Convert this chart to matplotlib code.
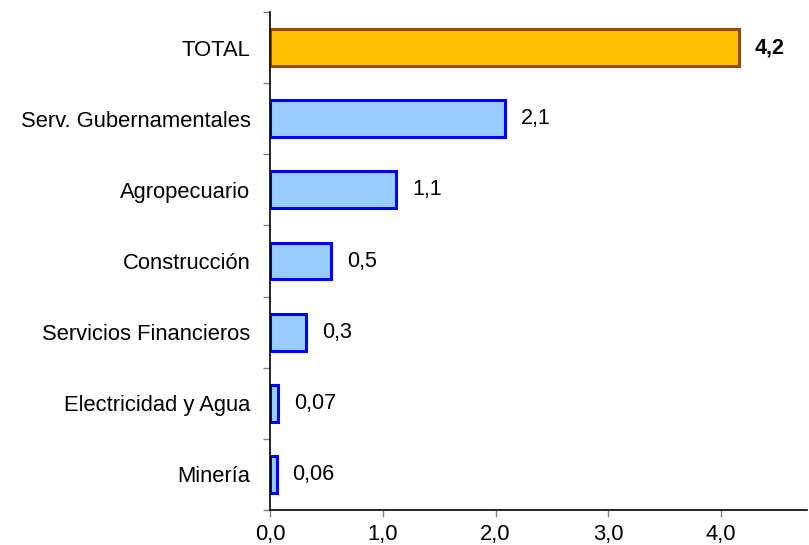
import matplotlib
matplotlib.use("Agg")
import matplotlib.pyplot as plt
import numpy as np

categories = ["TOTAL", "Serv. Gubernamentales", "Agropecuario", "Construcción",
              "Servicios Financieros", "Electricidad y Agua", "Minería"]
values = [4.16, 2.08, 1.12, 0.54, 0.32, 0.07, 0.06]
value_labels = ["4,2", "2,1", "1,1", "0,5", "0,3", "0,07", "0,06"]
x_ticks = [0.0, 1.0, 2.0, 3.0, 4.0]
x_tick_labels = ["0,0", "1,0", "2,0", "3,0", "4,0"]

plt.rcParams['font.family'] = ['Liberation Sans', 'DejaVu Sans']

fig = plt.figure(figsize=(8.09, 5.45), dpi=100)
ax = fig.add_axes([0.3337, 0.0642, 0.9975 - 0.3337, 0.978 - 0.0642])

y = np.arange(len(categories))
fills = ["#FFC000"] + ["#99CCFF"] * (len(categories) - 1)
edges = ["#9C4A0C"] + ["#0000FF"] * (len(categories) - 1)
ax.barh(y, values, height=0.52, color=fills, edgecolor=edges, linewidth=2.2)

for yi, v, lab in zip(y, values, value_labels):
    ax.text(v + 0.14, yi, lab, va='center', ha='left', fontsize=15.5,
            fontweight='bold' if yi == 0 else 'normal')

ax.set_ylim(len(categories) - 0.5, -0.5)
ax.set_xlim(0, 4.76)
ax.set_yticks(y)
ax.set_yticklabels(categories, fontsize=15.8)
ax.tick_params(axis='y', which='major', length=0, pad=14)
ax.set_yticks(np.arange(-0.5, len(categories), 1.0), minor=True)
ax.tick_params(axis='y', which='minor', length=5, color='#808080', width=1)

ax.set_xticks(x_ticks)
ax.set_xticklabels(x_tick_labels, fontsize=15.8)
ax.tick_params(axis='x', length=5, color='#808080', width=1, pad=5)

for s in ['top', 'right']:
    ax.spines[s].set_visible(False)
for s in ['left', 'bottom']:
    ax.spines[s].set_linewidth(1.2)
    ax.spines[s].set_color('black')

fig.savefig("out.png", dpi=100)
